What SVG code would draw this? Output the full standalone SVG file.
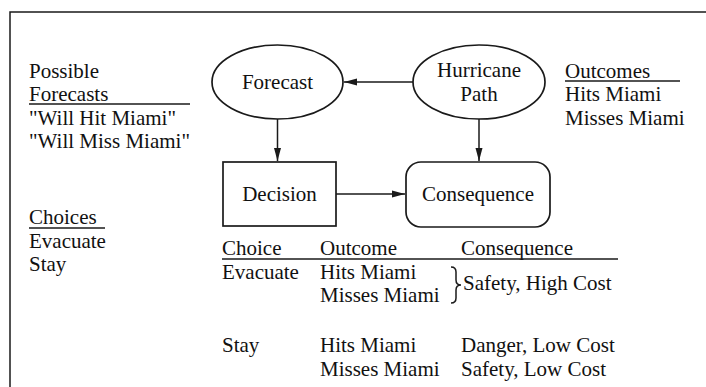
<svg xmlns="http://www.w3.org/2000/svg" width="706" height="387" viewBox="0 0 706 387">
<defs>
<marker id="ah" markerWidth="13" markerHeight="8" refX="13" refY="4" orient="auto" markerUnits="userSpaceOnUse">
<path d="M0,0.5 L13,4 L0,7.5 Z" fill="#1a1a1a"/>
</marker>
</defs>
<style>
text{font-family:"Liberation Serif","Times New Roman",serif;font-size:21px;fill:#111}
.c{text-anchor:middle}
.shape{fill:none;stroke:#1a1a1a;stroke-width:1.7}
.ln{stroke:#1a1a1a;stroke-width:1.5;fill:none}
</style>
<rect width="706" height="387" fill="#fff"/>
<path class="ln" d="M10,387 L10,12 L706,12" stroke-width="2"/>
<g id="left-notes">
<text x="29" y="78">Possible</text>
<text x="29" y="101">Forecasts</text>
<line class="ln" x1="29" y1="104" x2="190" y2="104"/>
<text x="29" y="125">"Will Hit Miami"</text>
<text x="29" y="148">"Will Miss Miami"</text>
<text x="29" y="224">Choices</text>
<line class="ln" x1="29" y1="228" x2="105" y2="228"/>
<text x="29" y="248">Evacuate</text>
<text x="29" y="271">Stay</text>
</g>
<g id="right-notes">
<text x="565" y="78">Outcomes</text>
<line class="ln" x1="565" y1="81" x2="680" y2="81"/>
<text x="565" y="101">Hits Miami</text>
<text x="565" y="125">Misses Miami</text>
</g>
<g id="forecast">
<ellipse class="shape" cx="277.5" cy="82" rx="65.5" ry="37"/>
<text class="c" x="277.5" y="89">Forecast</text>
</g>
<g id="hurricane-path">
<ellipse class="shape" cx="479" cy="82" rx="66" ry="37"/>
<text class="c" x="479" y="77">Hurricane</text>
<text class="c" x="479" y="101">Path</text>
</g>
<g id="decision">
<rect class="shape" x="223" y="162" width="113" height="64"/>
<text class="c" x="279.5" y="201">Decision</text>
</g>
<g id="consequence">
<rect class="shape" x="406" y="162" width="144" height="65" rx="15" ry="15"/>
<text class="c" x="478" y="201">Consequence</text>
</g>
<g id="connectors">
<line class="ln" x1="413" y1="82" x2="344" y2="82" marker-end="url(#ah)"/>
<line class="ln" x1="277.5" y1="119" x2="277.5" y2="161" marker-end="url(#ah)"/>
<line class="ln" x1="479" y1="119" x2="479" y2="161" marker-end="url(#ah)"/>
<line class="ln" x1="336" y1="194" x2="405" y2="194" marker-end="url(#ah)"/>
</g>
<g id="table">
<text x="222" y="255">Choice</text>
<text x="320" y="255">Outcome</text>
<text x="461" y="255">Consequence</text>
<line class="ln" x1="222" y1="259" x2="618" y2="259"/>
<text x="222" y="279">Evacuate</text>
<text x="320" y="279">Hits Miami</text>
<text x="320" y="302">Misses Miami</text>
<path class="ln" d="M451,267 Q456,267 456,272 L456,280 Q456,285 461,285 Q456,285 456,290 L456,298 Q456,303 451,303"/>
<text x="463" y="290">Safety, High Cost</text>
<text x="222" y="352">Stay</text>
<text x="320" y="352">Hits Miami</text>
<text x="461" y="352">Danger, Low Cost</text>
<text x="320" y="376">Misses Miami</text>
<text x="461" y="376">Safety, Low Cost</text>
</g>
</svg>
